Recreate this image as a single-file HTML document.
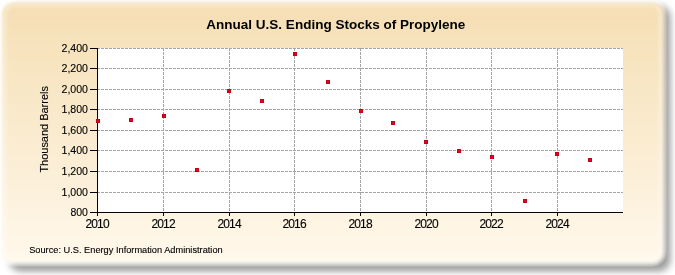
<!DOCTYPE html><html><head><meta charset="utf-8"><style>
html,body{margin:0;padding:0;background:#fff;width:675px;height:275px;overflow:hidden}
svg{display:block;will-change:transform}
text{font-family:"Liberation Sans",sans-serif;fill:#000}
</style></head><body>
<svg width="675" height="275" viewBox="0 0 675 275">
<defs>
<linearGradient id="bg" x1="0" y1="0" x2="0" y2="1"><stop offset="0" stop-color="#f5deb3"/><stop offset="1" stop-color="#fff8eb"/></linearGradient>
<filter id="sh" filterUnits="userSpaceOnUse" x="0" y="0" width="675" height="275"><feGaussianBlur stdDeviation="3.2"/></filter>
<filter id="soft" filterUnits="userSpaceOnUse" x="0" y="0" width="675" height="275"><feGaussianBlur stdDeviation="1.5"/></filter>
</defs>
<g filter="url(#soft)">
<rect x="9.0" y="5.5" width="661.5" height="266" rx="12" fill="#000" opacity="0.38" filter="url(#sh)"/>
<rect x="2.0" y="2.5" width="661.5" height="261" rx="12" fill="url(#bg)"/>
<rect x="5.0" y="5.5" width="655.5" height="255" rx="9" fill="none" stroke="#fff" stroke-width="3" opacity="0.35"/>
</g>
<rect x="98" y="48" width="525" height="164" fill="#fff"/>
<g shape-rendering="crispEdges">
<line x1="98" y1="48.5" x2="623" y2="48.5" stroke="#a4a4a4" stroke-width="1" stroke-dasharray="3,1" stroke-dashoffset="-3"/>
<line x1="98" y1="68.5" x2="623" y2="68.5" stroke="#a4a4a4" stroke-width="1" stroke-dasharray="3,1" stroke-dashoffset="-3"/>
<line x1="98" y1="89.5" x2="623" y2="89.5" stroke="#a4a4a4" stroke-width="1" stroke-dasharray="3,1" stroke-dashoffset="-3"/>
<line x1="98" y1="109.5" x2="623" y2="109.5" stroke="#a4a4a4" stroke-width="1" stroke-dasharray="3,1" stroke-dashoffset="-3"/>
<line x1="98" y1="130.5" x2="623" y2="130.5" stroke="#a4a4a4" stroke-width="1" stroke-dasharray="3,1" stroke-dashoffset="-3"/>
<line x1="98" y1="150.5" x2="623" y2="150.5" stroke="#a4a4a4" stroke-width="1" stroke-dasharray="3,1" stroke-dashoffset="-3"/>
<line x1="98" y1="171.5" x2="623" y2="171.5" stroke="#a4a4a4" stroke-width="1" stroke-dasharray="3,1" stroke-dashoffset="-3"/>
<line x1="98" y1="192.5" x2="623" y2="192.5" stroke="#a4a4a4" stroke-width="1" stroke-dasharray="3,1" stroke-dashoffset="-3"/>
<line x1="163.5" y1="48" x2="163.5" y2="212" stroke="#a4a4a4" stroke-width="1" stroke-dasharray="3,1"/>
<line x1="229.5" y1="48" x2="229.5" y2="212" stroke="#a4a4a4" stroke-width="1" stroke-dasharray="3,1"/>
<line x1="294.5" y1="48" x2="294.5" y2="212" stroke="#a4a4a4" stroke-width="1" stroke-dasharray="3,1"/>
<line x1="360.5" y1="48" x2="360.5" y2="212" stroke="#a4a4a4" stroke-width="1" stroke-dasharray="3,1"/>
<line x1="426.5" y1="48" x2="426.5" y2="212" stroke="#a4a4a4" stroke-width="1" stroke-dasharray="3,1"/>
<line x1="491.5" y1="48" x2="491.5" y2="212" stroke="#a4a4a4" stroke-width="1" stroke-dasharray="3,1"/>
<line x1="557.5" y1="48" x2="557.5" y2="212" stroke="#a4a4a4" stroke-width="1" stroke-dasharray="3,1"/>
<rect x="97" y="48" width="1" height="168" fill="#000"/>
<rect x="90" y="212" width="533" height="1" fill="#000"/>
<rect x="90" y="48" width="7" height="1" fill="#000"/>
<rect x="90" y="68" width="7" height="1" fill="#000"/>
<rect x="90" y="89" width="7" height="1" fill="#000"/>
<rect x="90" y="109" width="7" height="1" fill="#000"/>
<rect x="90" y="130" width="7" height="1" fill="#000"/>
<rect x="90" y="150" width="7" height="1" fill="#000"/>
<rect x="90" y="171" width="7" height="1" fill="#000"/>
<rect x="90" y="192" width="7" height="1" fill="#000"/>
<rect x="163" y="213" width="1" height="3" fill="#000"/>
<rect x="229" y="213" width="1" height="3" fill="#000"/>
<rect x="294" y="213" width="1" height="3" fill="#000"/>
<rect x="360" y="213" width="1" height="3" fill="#000"/>
<rect x="426" y="213" width="1" height="3" fill="#000"/>
<rect x="491" y="213" width="1" height="3" fill="#000"/>
<rect x="557" y="213" width="1" height="3" fill="#000"/>
</g>
<rect x="96" y="119" width="4" height="4" fill="#c4001e"/><rect x="97" y="120" width="2" height="2" fill="#e8001a"/>
<rect x="129" y="118" width="4" height="4" fill="#c4001e"/><rect x="130" y="119" width="2" height="2" fill="#e8001a"/>
<rect x="162" y="114" width="4" height="4" fill="#c4001e"/><rect x="163" y="115" width="2" height="2" fill="#e8001a"/>
<rect x="195" y="168" width="4" height="4" fill="#c4001e"/><rect x="196" y="169" width="2" height="2" fill="#e8001a"/>
<rect x="227" y="89" width="4" height="4" fill="#c4001e"/><rect x="228" y="90" width="2" height="2" fill="#e8001a"/>
<rect x="260" y="99" width="4" height="4" fill="#c4001e"/><rect x="261" y="100" width="2" height="2" fill="#e8001a"/>
<rect x="293" y="52" width="4" height="4" fill="#c4001e"/><rect x="294" y="53" width="2" height="2" fill="#e8001a"/>
<rect x="326" y="80" width="4" height="4" fill="#c4001e"/><rect x="327" y="81" width="2" height="2" fill="#e8001a"/>
<rect x="359" y="109" width="4" height="4" fill="#c4001e"/><rect x="360" y="110" width="2" height="2" fill="#e8001a"/>
<rect x="391" y="121" width="4" height="4" fill="#c4001e"/><rect x="392" y="122" width="2" height="2" fill="#e8001a"/>
<rect x="424" y="140" width="4" height="4" fill="#c4001e"/><rect x="425" y="141" width="2" height="2" fill="#e8001a"/>
<rect x="457" y="149" width="4" height="4" fill="#c4001e"/><rect x="458" y="150" width="2" height="2" fill="#e8001a"/>
<rect x="490" y="155" width="4" height="4" fill="#c4001e"/><rect x="491" y="156" width="2" height="2" fill="#e8001a"/>
<rect x="523" y="199" width="4" height="4" fill="#c4001e"/><rect x="524" y="200" width="2" height="2" fill="#e8001a"/>
<rect x="555" y="152" width="4" height="4" fill="#c4001e"/><rect x="556" y="153" width="2" height="2" fill="#e8001a"/>
<rect x="588" y="158" width="4" height="4" fill="#c4001e"/><rect x="589" y="159" width="2" height="2" fill="#e8001a"/>
<text x="88" y="51.9" font-size="11.8" text-anchor="end" stroke="#000" stroke-width="0.12" textLength="26.5" lengthAdjust="spacingAndGlyphs">2,400</text>
<text x="88" y="71.9" font-size="11.8" text-anchor="end" stroke="#000" stroke-width="0.12" textLength="26.5" lengthAdjust="spacingAndGlyphs">2,200</text>
<text x="88" y="92.9" font-size="11.8" text-anchor="end" stroke="#000" stroke-width="0.12" textLength="26.5" lengthAdjust="spacingAndGlyphs">2,000</text>
<text x="88" y="112.9" font-size="11.8" text-anchor="end" stroke="#000" stroke-width="0.12" textLength="26.5" lengthAdjust="spacingAndGlyphs">1,800</text>
<text x="88" y="133.9" font-size="11.8" text-anchor="end" stroke="#000" stroke-width="0.12" textLength="26.5" lengthAdjust="spacingAndGlyphs">1,600</text>
<text x="88" y="153.9" font-size="11.8" text-anchor="end" stroke="#000" stroke-width="0.12" textLength="26.5" lengthAdjust="spacingAndGlyphs">1,400</text>
<text x="88" y="174.9" font-size="11.8" text-anchor="end" stroke="#000" stroke-width="0.12" textLength="26.5" lengthAdjust="spacingAndGlyphs">1,200</text>
<text x="88" y="195.9" font-size="11.8" text-anchor="end" stroke="#000" stroke-width="0.12" textLength="26.5" lengthAdjust="spacingAndGlyphs">1,000</text>
<text x="88" y="215.9" font-size="11.8" text-anchor="end" stroke="#000" stroke-width="0.12" textLength="17.6" lengthAdjust="spacingAndGlyphs">800</text>
<text x="97.5" y="227.5" font-size="12" text-anchor="middle" stroke="#000" stroke-width="0.12" textLength="24.2">2010</text>
<text x="163.5" y="227.5" font-size="12" text-anchor="middle" stroke="#000" stroke-width="0.12" textLength="24.2">2012</text>
<text x="229.5" y="227.5" font-size="12" text-anchor="middle" stroke="#000" stroke-width="0.12" textLength="24.2">2014</text>
<text x="294.5" y="227.5" font-size="12" text-anchor="middle" stroke="#000" stroke-width="0.12" textLength="24.2">2016</text>
<text x="360.5" y="227.5" font-size="12" text-anchor="middle" stroke="#000" stroke-width="0.12" textLength="24.2">2018</text>
<text x="426.5" y="227.5" font-size="12" text-anchor="middle" stroke="#000" stroke-width="0.12" textLength="24.2">2020</text>
<text x="491.5" y="227.5" font-size="12" text-anchor="middle" stroke="#000" stroke-width="0.12" textLength="24.2">2022</text>
<text x="557.5" y="227.5" font-size="12" text-anchor="middle" stroke="#000" stroke-width="0.12" textLength="24.2">2024</text>
<text x="206.3" y="28.8" font-size="13.7" font-weight="bold" textLength="259" lengthAdjust="spacingAndGlyphs">Annual U.S. Ending Stocks of Propylene</text>
<text transform="translate(47.6,172.6) rotate(-90)" font-size="11.5" stroke="#000" stroke-width="0.1" textLength="86.5" lengthAdjust="spacingAndGlyphs">Thousand Barrels</text>
<text x="29.2" y="252.8" font-size="9.3" stroke="#000" stroke-width="0.12" textLength="193.5" lengthAdjust="spacingAndGlyphs">Source: U.S. Energy Information Administration</text>
</svg></body></html>
